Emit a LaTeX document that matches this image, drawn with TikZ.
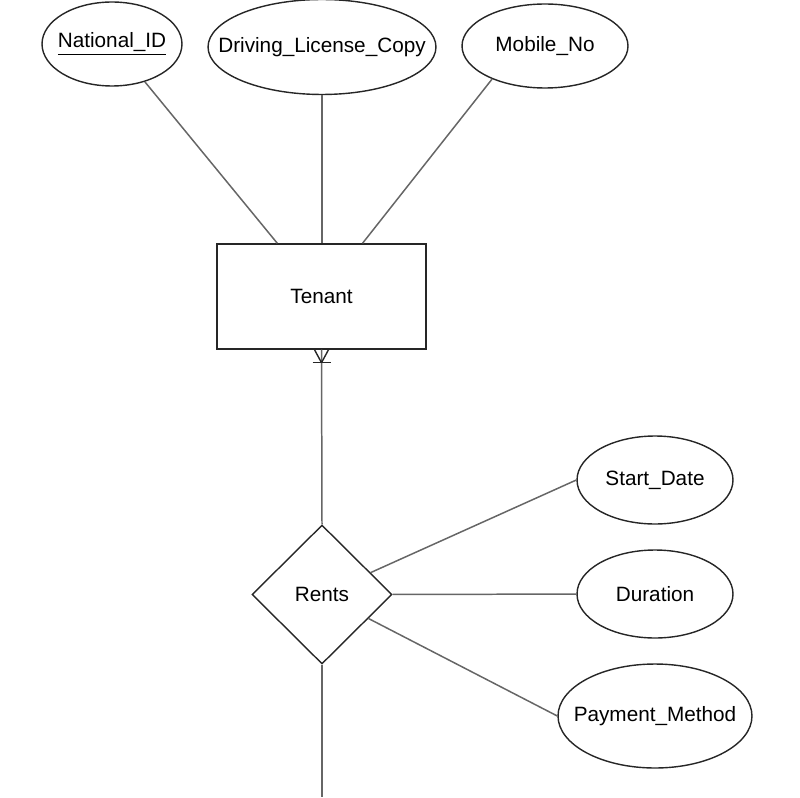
\documentclass[tikz,border=0pt]{standalone}
\usepackage{fontspec}
\setmainfont{Liberation Sans}
\usetikzlibrary{shapes.geometric,calc}
\newcommand{\zw}[1]{\makebox[0pt]{#1}}
\begin{document}
\begin{tikzpicture}[x=0.02cm,y=-0.02cm,
  attr/.style={ellipse,draw=black!85,line width=0.8pt,inner sep=0pt,font=\fontsize{11.8}{14}\selectfont},
  ent/.style={rectangle,draw=black!85,line width=0.8pt,inner sep=0pt,minimum width=4.18cm,minimum height=2.1cm,font=\fontsize{11.8}{14}\selectfont},
  rel/.style={diamond,draw=black!85,line width=0.8pt,inner sep=0pt,minimum width=2.8cm,minimum height=2.78cm,font=\fontsize{11.8}{14}\selectfont},
  conn/.style={draw=black!60,line width=0.85pt}]
\useasboundingbox (0,0) rectangle (800,797);
\node[attr,minimum width=2.8cm,minimum height=1.68cm] (nid) at (112,44) {\zw{\underline{National\_ID}}};
\node[attr,minimum width=4.56cm,minimum height=1.9cm] (dlc) at (322,47) {\zw{Driving\_License\_Copy}};
\node[attr,minimum width=3.32cm,minimum height=1.68cm] (mob) at (545,46) {\zw{Mobile\_No}};
\node[ent] (tenant) at (321.5,296.5) {Tenant};
\node[rel] (rents) at (322,594.5) {Rents};
\node[attr,minimum width=3.12cm,minimum height=1.76cm] (sd) at (655,480) {\zw{Start\_Date}};
\node[attr,minimum width=3.12cm,minimum height=1.76cm] (dur) at (655,594) {\zw{Duration}};
\node[attr,minimum width=3.88cm,minimum height=2.08cm] (pm) at (655,716) {\zw{Payment\_Method}};
\coordinate (bot) at (322,797);
\draw[conn] (nid.-49) -- ($(tenant.north west)!0.29!(tenant.north east)$);
\draw[conn] (dlc.south) -- (dlc.south |- tenant.north);
\draw[conn] (mob.-148) -- ($(tenant.north west)!0.695!(tenant.north east)$);
\draw[conn] (tenant.south) -- (rents.north);
\coordinate (cf) at ($(tenant.south)+(0,13)$);
\draw[line width=0.8pt,draw=black!85] (cf) -- ($(tenant.south)+(-7,0)$) (cf) -- ($(tenant.south)+(7,0)$);
\draw[line width=0.8pt,draw=black!85] ($(cf)+(-9,0)$) -- ($(cf)+(9,0)$);
\draw[conn] (rents) -- (sd.west);
\draw[conn] (rents) -- (dur);
\draw[conn] (rents) -- (pm.west);
\draw[conn] (rents.south) -- (bot);
\end{tikzpicture}
\end{document}
